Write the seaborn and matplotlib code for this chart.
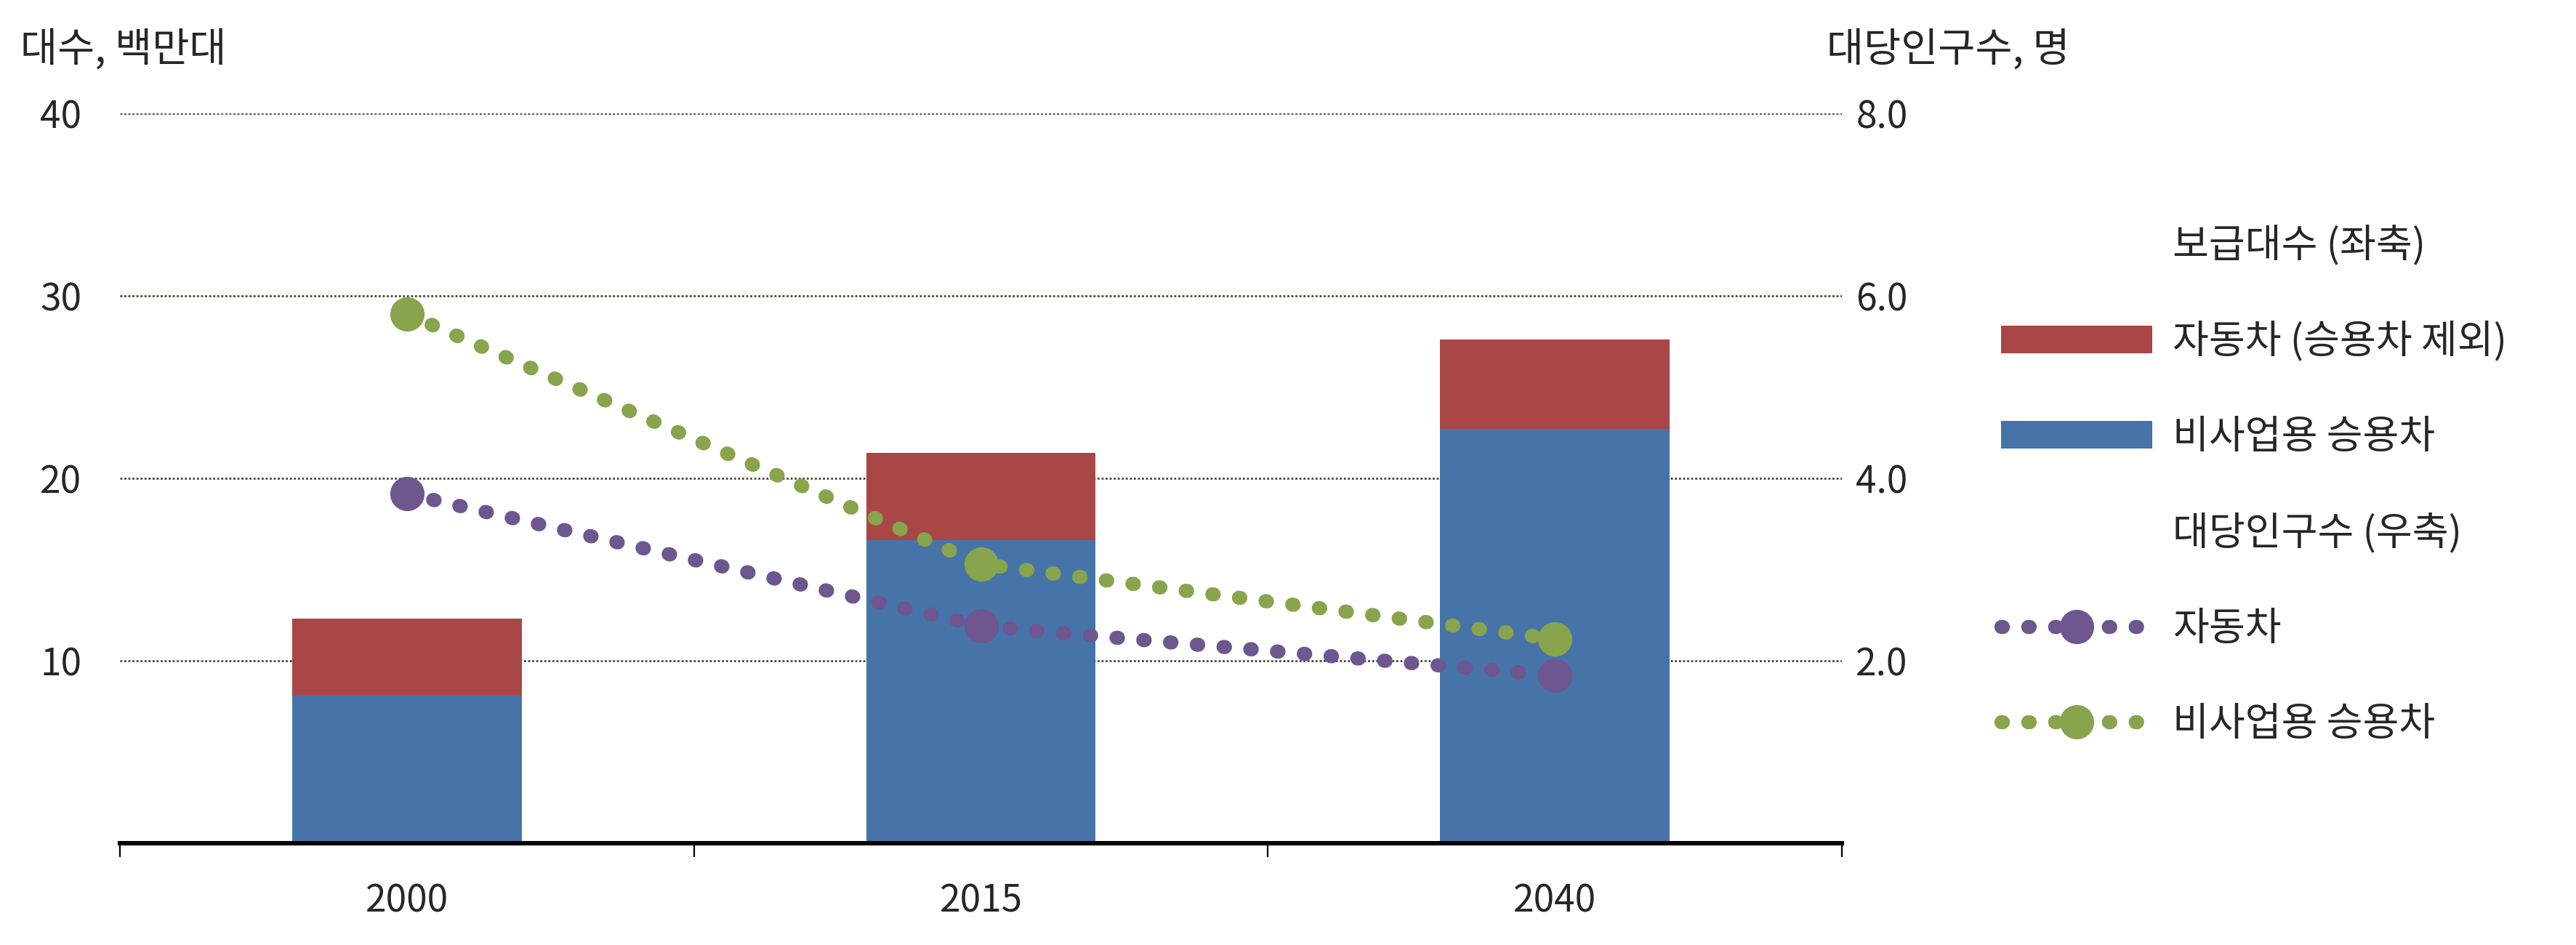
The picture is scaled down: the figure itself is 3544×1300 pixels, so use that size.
"""
Vehicle stock (stacked bars, left axis) and persons per vehicle (dotted lines, right axis).
"""

import matplotlib
matplotlib.use("Agg")
import matplotlib.pyplot as plt
import numpy as np
import seaborn as sns
from matplotlib.lines import Line2D
from matplotlib.patches import Patch
from matplotlib.ticker import FixedLocator, FormatStrFormatter

# data
years = ["2000", "2015", "2040"]
passenger_cars = [8.1, 16.6, 22.7]       # 비사업용 승용차, 백만대
total_vehicles = [12.3, 21.4, 27.6]      # 자동차 전체 (막대 상단)
persons_per_vehicle = [3.83, 2.38, 1.84]  # 자동차, 명
persons_per_car = [5.80, 3.06, 2.24]      # 비사업용 승용차, 명

left_ticks = [10, 20, 30, 40]
right_ticks = [2.0, 4.0, 6.0, 8.0]

RED = "#A84746"
BLUE = "#4674A8"
PURPLE = "#6E568E"
GREEN = "#88A44C"
GRID = "#4A4530"

sns.set_theme(style="white")
plt.rcParams["font.family"] = ["Noto Sans CJK KR", "DejaVu Sans"]

fig = plt.figure(figsize=(17.72, 6.5), dpi=200)
ax = fig.add_axes([0.0466, 0.1077, 0.6684, 0.7723])

# stacked bars: total drawn first, passenger cars over it
sns.barplot(x=years, y=total_vehicles, color=RED, width=0.4, saturation=1,
            errorbar=None, linewidth=0, edgecolor="none", ax=ax, zorder=2)
sns.barplot(x=years, y=passenger_cars, color=BLUE, width=0.4, saturation=1,
            errorbar=None, linewidth=0, edgecolor="none", ax=ax, zorder=2)

ax.set_xlim(-0.5, 2.5)
ax.set_ylim(0, 40)
ax.set_yticks(left_ticks)
ax.yaxis.grid(True, color=GRID, linewidth=1.0, linestyle=(0, (1, 1)))
ax.set_axisbelow(True)
ax.set_xlabel("")
ax.set_ylabel("")

for side in ["left", "right", "top"]:
    ax.spines[side].set_visible(False)
ax.spines["bottom"].set_color("black")
ax.spines["bottom"].set_linewidth(2.2)

ax.tick_params(axis="x", which="major", length=0, pad=19, labelsize=18.5)
ax.xaxis.set_minor_locator(FixedLocator(np.arange(len(years) + 1) - 0.5))
ax.tick_params(axis="x", which="minor", length=7, width=0.8, direction="out",
               color="black", bottom=True)
ax.tick_params(axis="y", length=0, pad=19, labelsize=18.5)

# right axis lines
ax2 = ax.twinx()
xpos = np.arange(len(years))
dotted = (0, (0.1, 1.8))
for vals, col in [(persons_per_vehicle, PURPLE), (persons_per_car, GREEN)]:
    sns.lineplot(x=xpos, y=vals, ax=ax2, color=col, linewidth=7,
                 linestyle=dotted, dash_capstyle="round", marker="o",
                 markersize=17, markeredgewidth=0, zorder=3)

ax2.set_ylim(0, 8)
ax2.set_yticks(right_ticks)
ax2.yaxis.set_major_formatter(FormatStrFormatter("%.1f"))
ax2.tick_params(axis="y", length=0, pad=7, labelsize=18.5)
ax2.set_ylabel("")
for side in ["left", "right", "top", "bottom"]:
    ax2.spines[side].set_visible(False)
ax2.grid(False)

fig.text(0.008, 0.947, "대수, 백만대", fontsize=20, va="center", ha="left")
fig.text(0.709, 0.947, "대당인구수, 명", fontsize=20, va="center", ha="left")

blank = Line2D([], [], linestyle="none", marker=None)
handles = [
    blank,
    Patch(facecolor=RED, edgecolor="none"),
    Patch(facecolor=BLUE, edgecolor="none"),
    blank,
    Line2D([], [], color=PURPLE, linewidth=7, linestyle=dotted,
           dash_capstyle="round", marker="o", markersize=17, markeredgewidth=0),
    Line2D([], [], color=GREEN, linewidth=7, linestyle=dotted,
           dash_capstyle="round", marker="o", markersize=17, markeredgewidth=0),
]
labels = ["보급대수 (좌축)", "자동차 (승용차 제외)", "비사업용 승용차",
          "대당인구수 (우축)", "자동차", "비사업용 승용차"]
fig.legend(handles, labels, loc="upper left", bbox_to_anchor=(0.7706, 0.778),
           frameon=False, fontsize=19.5, handlelength=3.84, handletextpad=0.52,
           labelspacing=1.41, borderaxespad=0)

fig.savefig("out.png", dpi=200)
